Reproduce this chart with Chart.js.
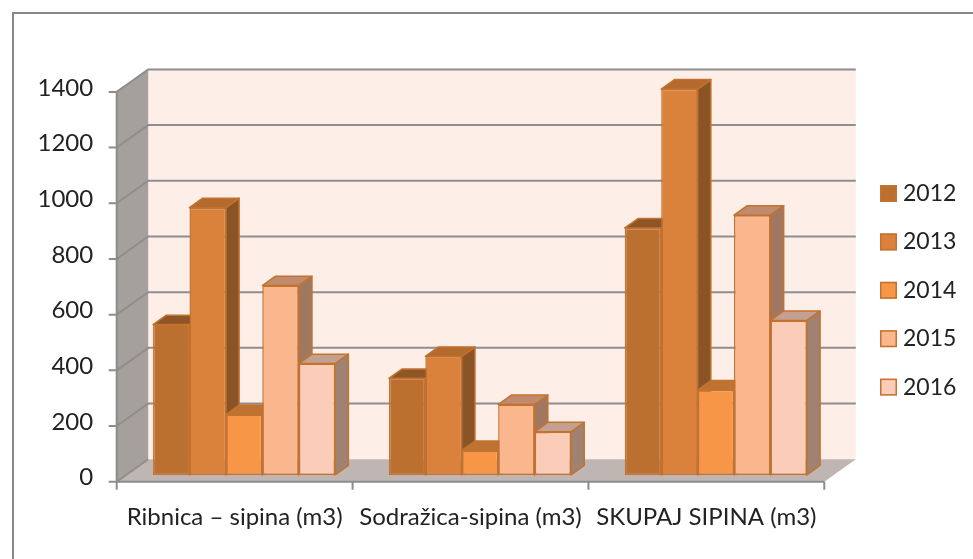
<!DOCTYPE html>
<html>
<head>
<meta charset="utf-8">
<style>
  html, body { margin: 0; padding: 0; background: #ffffff; }
  #wrap { width: 973px; height: 559px; }
</style>
<script src="https://cdn.jsdelivr.net/npm/chart.js@4.4.1/dist/chart.umd.min.js"></script>
</head>
<body>
<div id="wrap"><canvas id="chart" width="973" height="559"></canvas></div>
<script>
// Categories and yearly values (m3)
const categories = ['Ribnica – sipina (m3)', 'Sodražica-sipina (m3)', 'SKUPAJ SIPINA (m3)'];
const years = ['2012', '2013', '2014', '2015', '2016'];
const values2012 = [540, 347, 887];
const values2013 = [960, 426, 1386];
const values2014 = [217, 88, 305];
const values2015 = [680, 253, 933];
const values2016 = [400, 155, 555];
const yTickValues = [0, 200, 400, 600, 800, 1000, 1200, 1400];

// Face colours per series: front, top, right side
const frontColors = ['#BC702F', '#DA823B', '#F79646', '#FAB68D', '#FBCDB9'];
const topColors   = ['#8E5527', '#B4692D', '#BF7333', '#C08A6C', '#C4A090'];
const sideColors  = ['#8A5225', '#8B5426', '#9C5E2B', '#A07862', '#A08272'];
const edgeColor = '#C3722F';

const FONT = 'Lato, "Open Sans", sans-serif';
const TEXT = '#222222';

// Oblique projection: offset from the front plane to the back wall
const DX = 31.5, DY = -22.5;
const BAR_FRONT = 0.3;   // depth fraction of the bar front faces
const BAR_BACK = 0.72;   // depth fraction of the bar back faces

function poly(ctx, pts, fill, stroke, lw) {
  ctx.beginPath();
  ctx.moveTo(pts[0][0], pts[0][1]);
  for (let k = 1; k < pts.length; k++) ctx.lineTo(pts[k][0], pts[k][1]);
  ctx.closePath();
  if (fill) { ctx.fillStyle = fill; ctx.fill(); }
  if (stroke) { ctx.strokeStyle = stroke; ctx.lineWidth = lw || 1; ctx.stroke(); }
}

const scene3d = {
  id: 'scene3d',
  beforeDraw(chart) {
    const { ctx, width, height } = chart;
    ctx.save();
    ctx.fillStyle = '#ffffff';
    ctx.fillRect(0, 0, width, height);
    ctx.strokeStyle = '#878787';
    ctx.lineWidth = 2;
    ctx.beginPath();
    ctx.moveTo(13, height);
    ctx.lineTo(13, 13);
    ctx.lineTo(width, 13);
    ctx.stroke();
    ctx.restore();
  },
  beforeDatasetsDraw(chart) {
    const { ctx, chartArea: a, scales } = chart;
    const ys = scales.y;
    const fx = a.left - DX, fxr = a.right - DX;   // front plane x extent
    ctx.save();
    // back wall
    ctx.fillStyle = '#FDEEE8';
    ctx.fillRect(a.left, a.top, a.right - a.left, a.bottom - a.top);
    // left side wall
    poly(ctx, [[fx, a.top - DY], [a.left, a.top], [a.left, a.bottom], [fx, a.bottom - DY]], '#A6A09D');
    // floor
    poly(ctx, [[fx, a.bottom - DY], [a.left, a.bottom], [a.right, a.bottom], [fxr, a.bottom - DY]], '#BFB6B3');
    // gridlines across side wall and back wall
    ctx.lineWidth = 2;
    ctx.strokeStyle = '#8E8E8E';
    yTickValues.forEach(v => {
      const py = ys.getPixelForValue(v);
      ctx.beginPath();
      ctx.moveTo(fx, py - DY);
      ctx.lineTo(a.left, py);
      if (v > 0) ctx.lineTo(a.right, py);
      ctx.stroke();
    });
    // front vertical axis with tick marks
    ctx.strokeStyle = '#8C8C8C';
    ctx.beginPath();
    ctx.moveTo(fx, ys.getPixelForValue(1400) - DY);
    ctx.lineTo(fx, ys.getPixelForValue(0) - DY);
    yTickValues.forEach(v => {
      const py = ys.getPixelForValue(v) - DY;
      ctx.moveTo(fx - 8, py);
      ctx.lineTo(fx, py);
    });
    ctx.stroke();
    // front category axis with boundary ticks
    const yb = a.bottom - DY;
    const cw = (a.right - a.left) / categories.length;
    ctx.beginPath();
    ctx.moveTo(fx, yb);
    ctx.lineTo(fxr, yb);
    for (let k = 0; k <= categories.length; k++) {
      const px = fx + k * cw;
      ctx.moveTo(px, yb);
      ctx.lineTo(px, yb + 8);
    }
    ctx.stroke();
    ctx.restore();

    // bars sit partway into the depth: shift the bar plane, then add top and side faces
    ctx.save();
    ctx.translate(-(1 - BAR_FRONT) * DX, -(1 - BAR_FRONT) * DY);
    const ddx = (BAR_BACK - BAR_FRONT) * DX, ddy = (BAR_BACK - BAR_FRONT) * DY;
    ctx.lineJoin = 'round';
    for (let j = 0; j < categories.length; j++) {
      chart.data.datasets.forEach((ds, i) => {
        const el = chart.getDatasetMeta(i).data[j];
        const p = el.getProps(['x', 'y', 'base', 'width'], true);
        const L = p.x - p.width / 2, R = p.x + p.width / 2, T = p.y, B = p.base;
        poly(ctx, [[R, T], [R + ddx, T + ddy], [R + ddx, B + ddy], [R, B]], sideColors[i], edgeColor, 1.5);
        poly(ctx, [[L, T], [L + ddx, T + ddy], [R + ddx, T + ddy], [R, T]], topColors[i], edgeColor, 1.5);
      });
    }
  },
  afterDatasetsDraw(chart) {
    chart.ctx.restore();
  },
  afterDraw(chart) {
    // legend
    const { ctx } = chart;
    ctx.save();
    ctx.font = '23px ' + FONT;
    ctx.textBaseline = 'middle';
    chart.data.datasets.forEach((ds, i) => {
      const cy = 193.5 + i * 48.4;
      ctx.fillStyle = ds.backgroundColor;
      ctx.fillRect(880, cy - 8.5, 17, 17);
      ctx.strokeStyle = edgeColor;
      ctx.lineWidth = 1.5;
      ctx.strokeRect(880.75, cy - 7.75, 15.5, 15.5);
      ctx.fillStyle = TEXT;
      ctx.fillText(ds.label, 903, cy);
    });
    ctx.restore();
  }
};

const seriesValues = [values2012, values2013, values2014, values2015, values2016];

new Chart(document.getElementById('chart'), {
  type: 'bar',
  data: {
    labels: categories,
    datasets: years.map((yr, i) => ({
      label: yr,
      data: seriesValues[i],
      backgroundColor: frontColors[i],
      borderColor: edgeColor,
      borderWidth: 1.5,
      borderSkipped: false,
      clip: false,
      categoryPercentage: 0.772,
      barPercentage: 1
    }))
  },
  options: {
    responsive: false,
    animation: false,
    devicePixelRatio: 1,
    layout: { padding: { top: 62.5, right: 117.2, bottom: 0, left: 0 } },
    plugins: {
      legend: { display: false },
      tooltip: { enabled: false }
    },
    scales: {
      x: {
        type: 'category',
        offset: true,
        grid: { display: false, drawTicks: false },
        border: { display: false },
        ticks: {
          autoSkip: false, maxRotation: 0, minRotation: 0,
          padding: 44, labelOffset: -DX,
          font: { family: FONT, size: 24 }, color: TEXT
        },
        afterFit(s) { s.height = 99.8; }
      },
      y: {
        min: 0, max: 1400,
        grid: { display: false, drawTicks: false },
        border: { display: false },
        ticks: {
          stepSize: 200, padding: 55, labelOffset: -DY - 4,
          font: { family: FONT, size: 24 }, color: TEXT,
          callback: v => String(v)
        },
        afterFit(s) { s.width = 148.2; }
      }
    }
  },
  plugins: [scene3d]
});
</script>
</body>
</html>
